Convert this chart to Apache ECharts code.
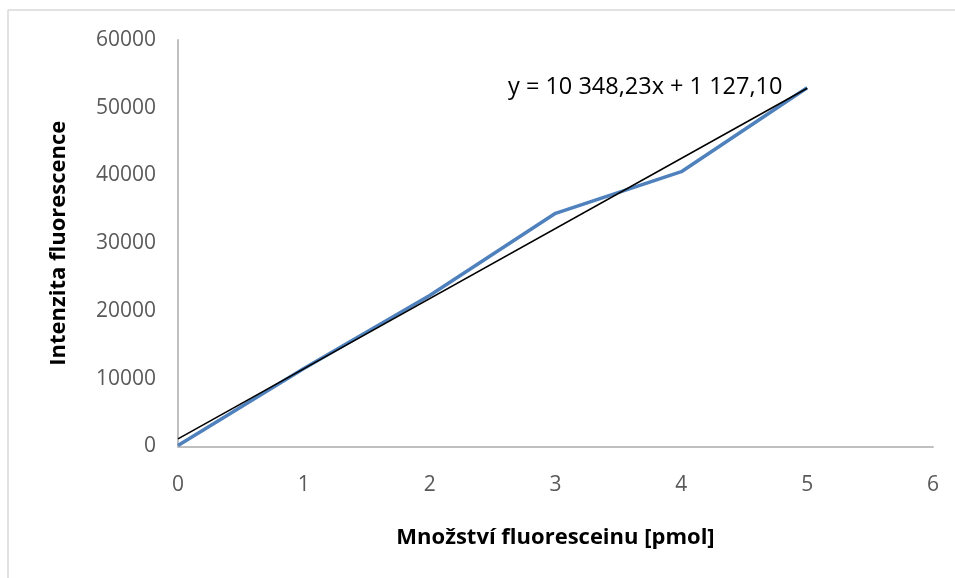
<!DOCTYPE html>
<html>
<head>
<meta charset="utf-8">
<script src="https://cdn.jsdelivr.net/npm/echarts@6/dist/echarts.min.js"></script>
<style>html,body{margin:0;padding:0;background:#fff;}#c{width:955px;height:578px;}</style>
</head>
<body>
<div id="c"></div>
<script>
const xValues = [0, 1, 2, 3, 4, 5];
const yValues = [150, 11500, 22300, 34420, 40560, 52960];
const trendSlope = 10348.23;
const trendIntercept = 1127.10;
const trendText = 'y = 10 348,23x + 1 127,10';
const xTitle = 'Množství fluoresceinu [pmol]';
const yTitle = 'Intenzita fluorescence';

const dataPts = xValues.map((x, i) => [x, yValues[i]]);
const trendX = [xValues[0], xValues[xValues.length - 1]];
const trendPts = trendX.map(x => [x, trendSlope * x + trendIntercept]);

const FONT = '"Open Sans", "Liberation Sans", sans-serif';
const chart = echarts.init(document.getElementById('c'));
chart.setOption({
  animation: false,
  backgroundColor: '#fff',
  grid: { left: 178, top: 40, right: 22, bottom: 131.5 },
  xAxis: {
    type: 'value', min: 0, max: 6, interval: 1,
    name: xTitle, nameLocation: 'middle', nameGap: 80,
    nameTextStyle: { fontFamily: FONT, fontWeight: 'bold', fontSize: 22, color: '#000' },
    axisLine: { show: true, onZero: false, lineStyle: { color: '#bfbfbf', width: 2 } },
    axisTick: { show: false },
    splitLine: { show: false },
    axisLabel: { fontFamily: FONT, fontSize: 21, color: '#595959', margin: 28 }
  },
  yAxis: {
    type: 'value', min: 0, max: 60000, interval: 10000,
    name: yTitle, nameLocation: 'middle', nameGap: 108, nameRotate: 90,
    nameTextStyle: { fontFamily: FONT, fontWeight: 'bold', fontSize: 22, color: '#000' },
    axisLine: { show: true, lineStyle: { color: '#bfbfbf', width: 2 } },
    axisTick: { show: false },
    splitLine: { show: false },
    axisLabel: { fontFamily: FONT, fontSize: 21, color: '#595959', margin: 22,
      formatter: v => String(v) }
  },
  series: [
    {
      type: 'line', data: dataPts, symbol: 'none', z: 2,
      lineStyle: { color: '#4f81bd', width: 3.5 }
    },
    {
      type: 'line', data: trendPts, symbol: 'none', z: 3,
      lineStyle: { color: '#000', width: 1.6 }
    }
  ],
  graphic: [
    { type: 'line', shape: { x1: 8, y1: 10, x2: 955, y2: 10 }, style: { stroke: '#d9d9d9', lineWidth: 1.5 } },
    { type: 'line', shape: { x1: 8, y1: 10, x2: 8, y2: 578 }, style: { stroke: '#d9d9d9', lineWidth: 1.5 } },
    { type: 'text', left: 508, top: 75, z: 10,
      style: { text: trendText, fontFamily: FONT, fontSize: 23.5, fill: '#000' } }
  ]
});
</script>
</body>
</html>
